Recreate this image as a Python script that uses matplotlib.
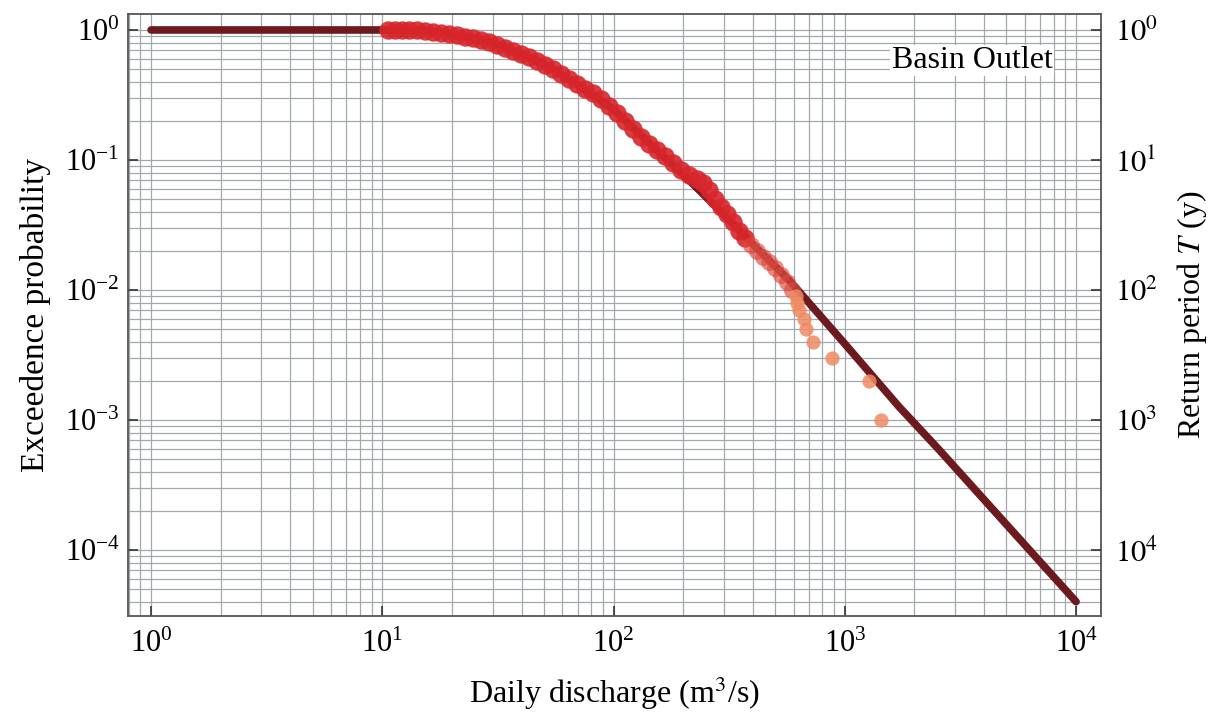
import numpy as np
import matplotlib
matplotlib.use("Agg")
import matplotlib.pyplot as plt
from matplotlib.ticker import LogLocator, FuncFormatter, NullFormatter

plt.rcParams['font.family'] = ['Liberation Serif', 'DejaVu Serif']
plt.rcParams['mathtext.fontset'] = 'stix'

# fitted distribution (dark line)
fit_q = [1, 10, 13, 16, 20, 25, 30, 40, 50, 70, 100, 150, 212, 300, 400,
         574, 1000, 1718, 2557, 5000, 10000]
fit_p = [1.0, 1.0, 0.995, 0.98, 0.93, 0.86, 0.80, 0.65, 0.545, 0.38, 0.245,
         0.124, 0.070, 0.038, 0.0225, 0.0119, 3.85e-3, 1.26e-3, 5.9e-4,
         1.57e-4, 4.0e-5]

# observed daily discharge, empirical exceedance (bulk of the sample)
obs_q = [10.6, 11.4, 12.2, 13.1, 14.1, 15.3, 16.6, 18.0, 19.4, 21.1, 22.8,
         24.7, 26.7, 28.9, 31.4, 34.0, 36.8, 39.8, 43.1, 46.7, 50.5, 54.7,
         59.3, 64.2, 69.5, 75.3, 81.5, 88.3, 95.6, 103.5, 112.1, 121.4, 131.5,
         142.4, 154.2, 167.0, 180.8, 195.8, 212.1, 229.7, 243.8, 258.8, 274.8,
         291.7, 309.7, 328.8, 348.9, 370.4, 393.2, 417.4, 443.2, 470.4, 499.4,
         530.1, 562.8, 591.4]
obs_p = [1.0, 1.0, 1.0, 1.0, 0.991, 0.982, 0.965, 0.948, 0.932, 0.907, 0.884,
         0.860, 0.838, 0.809, 0.767, 0.727, 0.689, 0.654, 0.620, 0.577, 0.538,
         0.501, 0.459, 0.420, 0.384, 0.352, 0.328, 0.294, 0.260, 0.230, 0.200,
         0.173, 0.150, 0.133, 0.119, 0.107, 0.0948, 0.0838, 0.0767, 0.0714,
         0.0665, 0.0588, 0.0501, 0.0435, 0.0384, 0.0333, 0.0284, 0.0251,
         0.0222, 0.0200, 0.0179, 0.0164, 0.0148, 0.0130, 0.0115, 0.0100]

# largest events
tail_q = [615.4, 621.6, 634.2, 666.5, 679.8, 729.1, 881.0, 1273, 1435]
tail_p = [0.009, 0.008, 0.007, 0.006, 0.005, 0.004, 0.003, 0.002, 0.001]

fig = plt.figure(figsize=(12.15, 7.17), dpi=100)
ax = fig.add_axes([0.1053, 0.1409, 0.8009, 0.8396])

ax.plot(fit_q, fit_p, color='#6d1a1f', lw=5.5, solid_capstyle='round', zorder=3)
ax.scatter(obs_q[:-8], obs_p[:-8], s=175, color='#d7262b', alpha=0.9, lw=0,
           zorder=4)
ax.scatter(obs_q[-8:], obs_p[-8:], s=150, color='#de4a3e', alpha=0.65, lw=0,
           zorder=4)
ax.scatter(tail_q, tail_p, s=105, color='#ef8a62', alpha=0.85, lw=0, zorder=4)

ax.set_xscale('log')
ax.set_yscale('log')
ax.set_xlim(10**-0.1, 10**4.108)
ax.set_ylim(10**-4.508, 10**0.123)

ax.xaxis.set_major_locator(LogLocator(base=10, numticks=10))
ax.xaxis.set_minor_locator(LogLocator(base=10, subs=np.arange(2, 10), numticks=20))
ax.yaxis.set_major_locator(LogLocator(base=10, numticks=10))
ax.yaxis.set_minor_locator(LogLocator(base=10, subs=np.arange(2, 10), numticks=20))
ax.xaxis.set_minor_formatter(NullFormatter())
ax.yaxis.set_minor_formatter(NullFormatter())

ax.grid(True, which='both', color='#a3a8ad', lw=0.9, zorder=0)
ax.set_axisbelow(True)
ax.tick_params(which='major', direction='in', length=7, width=1.2,
               labelsize=22, color='#333333')
ax.tick_params(which='minor', length=0)
ax.tick_params(axis='x', pad=10)
ax.tick_params(axis='y', pad=6)
for s in ax.spines.values():
    s.set_color('#555555')
    s.set_linewidth(1.3)

# return period on the right
ax2 = ax.twinx()
ax2.set_yscale('log')
ax2.set_ylim(ax.get_ylim())
ax2.yaxis.set_major_locator(LogLocator(base=10, numticks=10))
ax2.yaxis.set_minor_locator(LogLocator(base=10, subs=np.arange(2, 10), numticks=20))
ax2.yaxis.set_minor_formatter(NullFormatter())
ax2.yaxis.set_major_formatter(FuncFormatter(
    lambda v, _: r'$10^{%d}$' % round(-np.log10(v))))
ax2.tick_params(which='major', direction='in', length=7, width=1.2,
                labelsize=22, pad=10, color='#333333')
ax2.tick_params(which='minor', length=0)
for s in ax2.spines.values():
    s.set_visible(False)

ax.set_xlabel('Daily discharge (m$^3$/s)', fontsize=23, labelpad=11)
ax.set_ylabel('Exceedence probability', fontsize=24, labelpad=10)
ax2.set_ylabel('Return period $T$ (y)', fontsize=23, labelpad=12)

ax.text(0.95, 0.923, 'Basin Outlet', transform=ax.transAxes, fontsize=23,
        ha='right', va='center', zorder=5,
        bbox=dict(facecolor='white', edgecolor='none', pad=1))

fig.savefig('out.png', dpi=100)
